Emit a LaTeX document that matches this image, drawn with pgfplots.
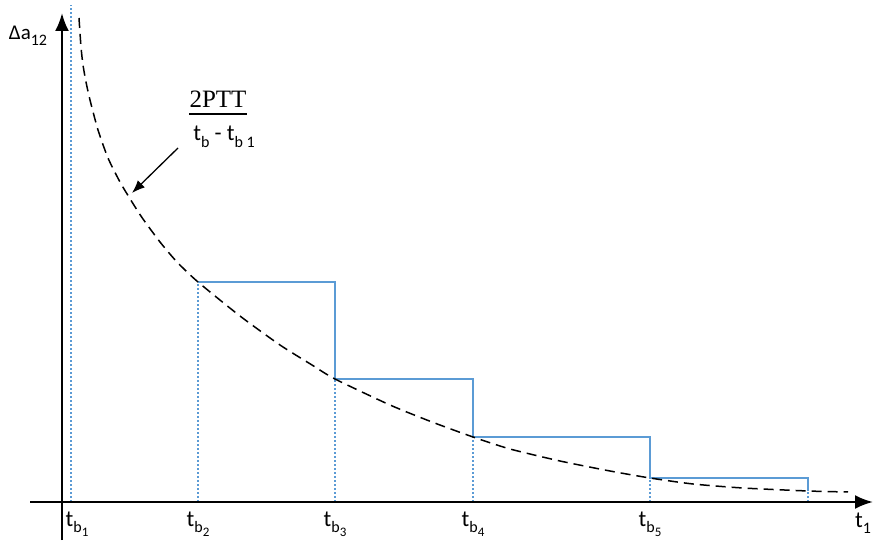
\documentclass[border=0pt]{standalone}
\usepackage{pgfplots}
\pgfplotsset{compat=1.18}
\usepackage{fontspec}
\setmainfont{Carlito}
\newfontfamily\serifnum{Liberation Serif}
\usetikzlibrary{arrows.meta}

\definecolor{stepblue}{RGB}{91,155,213}

% subscript helpers
\newcommand{\sub}[1]{\raisebox{-0.28em}{\fontsize{16}{16}\selectfont #1}}
\newcommand{\subsub}[1]{\raisebox{-0.22em}{\fontsize{13}{13}\selectfont #1}}

% dashed reference curve  2PTT/(t_b - t_b1)
\pgfplotstableread{
x   y
17  484
19  455
21  437
24  420
28  402
36  372
46  344
58  320
70  300
81  283
98  260
115 240
136 220
178 186
218 157
250 137
273 123
328 97
370 80
411 65
448 53
498 41
548 31
588 24
631 18
681 14
746 11
786 10
}\curvedata

% stepped increments between the break times
\pgfplotstableread{
x   y
136 220
273 220
273 123
411 123
411 65
588 65
588 24
746 24
746 11
}\stepdata

\begin{document}
\fontsize{23}{27}\selectfont
\begin{tikzpicture}
\begin{axis}[
  hide axis,
  x=1pt, y=1pt,
  xmin=-62, xmax=811,
  ymin=-42, ymax=502,
  clip=false,
]
\coordinate (bl) at (axis cs:-62,-42);
\coordinate (tr) at (axis cs:811,502);
% break times (dotted verticals)
\addplot[stepblue, line width=1.4pt, dash pattern=on 2pt off 2pt] coordinates {(9,0) (9,497)};
\addplot[stepblue, line width=1.4pt, dash pattern=on 2pt off 2pt] coordinates {(136,0) (136,220)};
\addplot[stepblue, line width=1.4pt, dash pattern=on 2pt off 2pt] coordinates {(273,0) (273,123)};
\addplot[stepblue, line width=1.4pt, dash pattern=on 2pt off 2pt] coordinates {(411,0) (411,65)};
\addplot[stepblue, line width=1.4pt, dash pattern=on 2pt off 2pt] coordinates {(588,0) (588,24)};
\addplot[stepblue, line width=1.4pt, dash pattern=on 2pt off 2pt] coordinates {(746,0) (746,11)};

% steps
\addplot[stepblue, line width=1.8pt] table[x=x, y=y] {\stepdata};

% curve
\addplot[black, line width=1.5pt, smooth, tension=0.4, dash pattern=on 10pt off 6pt] table[x=x, y=y] {\curvedata};

% axes
\draw[line width=2.4pt, -{Latex[length=18pt, width=14pt]}] (axis cs:-32,0) -- (axis cs:811,0);
\draw[line width=2.4pt, -{Latex[length=18pt, width=14pt]}] (axis cs:0,-38) -- (axis cs:0,489);

% labels
\node at (axis cs:-34,466) {{\fontsize{21}{25}\selectfont Δa}\sub{12}};
\node at (axis cs:801,-21) {t\sub{1}};
\node at (axis cs:15,-22) {t\sub{b\subsub{1}}};
\node at (axis cs:136,-22) {t\sub{b\subsub{2}}};
\node at (axis cs:273,-22) {t\sub{b\subsub{3}}};
\node at (axis cs:411,-22) {t\sub{b\subsub{4}}};
\node at (axis cs:588,-22) {t\sub{b\subsub{5}}};

% formula annotation
\node at (axis cs:156,403) {\fontsize{25}{28}\serifnum 2PTT};
\draw[line width=1.3pt] (axis cs:127,388) -- (axis cs:185,388);
\node at (axis cs:162,365) {t\sub{b} - t\sub{b 1}};
\draw[line width=1.3pt, -{Latex[length=13pt, width=10pt]}] (axis cs:116,354) -- (axis cs:70,309);
\end{axis}
\pgfresetboundingbox
\path (bl) rectangle (tr);
\end{tikzpicture}
\end{document}
